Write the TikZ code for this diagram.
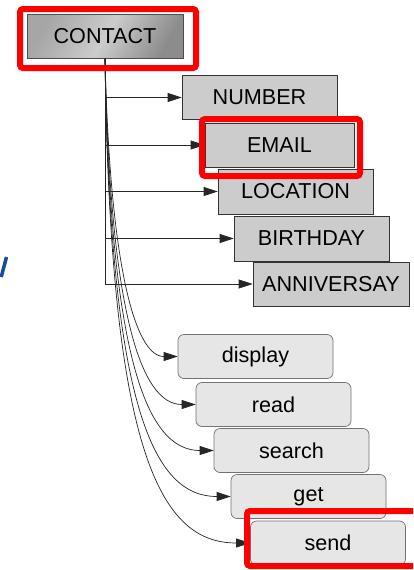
\documentclass[tikz,border=0pt]{standalone}
\usepackage{fontspec}
\setmainfont{Liberation Sans}
\usetikzlibrary{arrows.meta}
\definecolor{frame}{HTML}{FF0000}
\definecolor{topfill}{HTML}{CCCCCC}
\definecolor{lowfill}{HTML}{E6E6E6}
\definecolor{slideblue}{HTML}{1A4C9C}
\tikzset{
  box/.style={draw=black!80, line width=0.7pt, fill=topfill, minimum width=155pt, minimum height=44pt, inner sep=0pt, font=\fontsize{21.6}{25}\selectfont},
  rbox/.style={draw=black!55, line width=0.7pt, fill=lowfill, rounded corners=6pt, minimum width=155pt, minimum height=44pt, inner sep=0pt, font=\fontsize{21.6}{25}\selectfont},
  conn/.style={draw=black!85, line width=0.7pt, -{Triangle[length=14pt,width=9pt]}},
  hilite/.style={draw=frame, line width=6pt, rounded corners=3pt},
}
\begin{document}
\begin{tikzpicture}[x=1pt,y=-1pt]
\clip (0,0) rectangle (413,570);
\fill[white] (0,0) rectangle (413,570);
% fragment of slide text
\draw[slideblue, line width=3.5pt] (6.5,257) -- (1.2,277);
% nodes
\node[box, minimum width=156pt, draw=black!70, left color=black!35, right color=black!45, middle color=black!20, shading angle=60] (contact) at (105,36) {CONTACT};
\node[box] (number) at (259.5,97.5) {NUMBER};
\node[box, minimum width=149pt] (email) at (279.5,145) {EMAIL};
\node[box, minimum height=45pt] (location) at (295.5,191.5) {LOCATION};
\node[box, minimum height=45pt] (birthday) at (311.5,238.5) {BIRTHDAY};
\node[box, minimum width=156pt] (anniv) at (331,284) {ANNIVERSAY};
\node[rbox] (display) at (255.5,356.5) {display};
\node[rbox] (read) at (273.5,404.5) {read};
\node[rbox] (search) at (291.5,450.5) {search};
\node[rbox] (get) at (308.5,496.5) {get};
\node[rbox] (send) at (328,543) {send};
% tree connectors
\draw[conn] (contact.south) |- (number.west);
\draw[conn] (contact.south) |- (email.west);
\draw[conn] (contact.south) |- (location.west);
\draw[conn] (contact.south) |- (birthday.west);
\draw[conn] (contact.south) |- (anniv.west);
% curved connectors
\draw[conn] (contact.south) .. controls (110,266) and (135,356.5) .. (display.west);
\draw[conn] (contact.south) .. controls (110,314) and (141,404.5) .. (read.west);
\draw[conn] (contact.south) .. controls (110,360) and (147,450.5) .. (search.west);
\draw[conn] (contact.south) .. controls (110,406) and (153,496.5) .. (get.west);
\draw[conn] (contact.south) .. controls (110,453) and (160,543) .. (send.west);
% highlight frames
\draw[hilite] (20,9) rectangle (196,68);
\draw[hilite] (202,119) rectangle (360,176);
\draw[hilite] (247,511) rectangle (440,566);
\end{tikzpicture}
\end{document}
